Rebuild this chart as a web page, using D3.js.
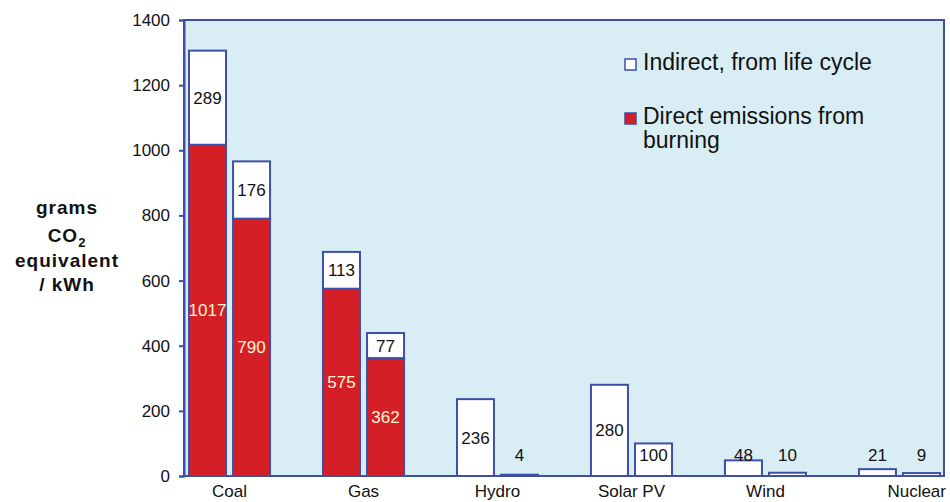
<!DOCTYPE html>
<html lang="en">
<head>
<meta charset="UTF-8">
<title>CO2 per kWh</title>
<script src="https://cdn.jsdelivr.net/npm/d3@7/dist/d3.min.js"></script>
<style>
	body { margin: 0; background: #fff; }
	text { font-family: "Liberation Sans", Arial, sans-serif; }
</style>
</head>
<body>
<svg id="chart" width="950" height="502"></svg>
<script>
// two bars per source: [first, second]
const categories = ["Coal", "Gas", "Hydro", "Solar PV", "Wind", "Nuclear"];
const direct = [[1017, 790], [575, 362], [0, 0], [0, 0], [0, 0], [0, 0]];
const indirect = [[289, 176], [113, 77], [236, 4], [280, 100], [48, 10], [21, 9]];
const yTicks = [0, 200, 400, 600, 800, 1000, 1200, 1400];
const legendLabels = [["Indirect, from life cycle"], ["Direct emissions from", "burning"]];
const yTitle = ["grams", "CO2", "equivalent", "/ kWh"];

const blue = "#3d4fa8", red = "#d41f26", bg = "#d9eef4";

const svg = d3.select("#chart");
const W = 950, H = 502;
const m = { top: 20, right: 6, bottom: 26, left: 184 };
const x0 = m.left, x1 = W - m.right, y0 = H - m.bottom, y1 = m.top;

// rows for the stack
let rows = [];
categories.forEach((c, i) => {
	[0, 1].forEach(j => rows.push({ cat: c, sub: j, direct: direct[i][j], indirect: indirect[i][j] }));
});
const series = d3.stack().keys(["direct", "indirect"])(rows);

const y = d3.scaleLinear().domain([0, 1400]).range([y0, y1]);
const x = d3.scaleBand().domain(categories)
	.range([189, 940]).paddingInner(0.395).paddingOuter(0).align(0);
const xs = d3.scaleBand().domain([0, 1]).range([0, x.bandwidth()]).paddingInner(0.16);

// plot background
svg.append("rect")
	.attr("x", x0).attr("y", y1)
	.attr("width", x1 - x0).attr("height", y0 - y1)
	.attr("fill", bg).attr("stroke", blue).attr("stroke-width", 2);

// y axis
const yAxis = svg.append("g")
	.attr("transform", `translate(${x0},0)`)
	.call(d3.axisLeft(y).tickValues(yTicks).tickFormat(d3.format("d")).tickSize(5).tickPadding(9));
yAxis.select(".domain").attr("stroke", blue).attr("stroke-width", 2);
yAxis.selectAll(".tick line").attr("stroke", blue).attr("stroke-width", 2);
yAxis.selectAll(".tick text").attr("fill", "#111").style("font-size", "17px")
	.style("font-family", "'Liberation Sans', Arial, sans-serif");

// bars
const colors = { direct: red, indirect: "#fff" };
series.forEach(s => {
	svg.append("g").selectAll("rect")
		.data(s)
		.join("rect")
		.filter(d => d[1] - d[0] > 0)
		.attr("x", d => x(d.data.cat) + xs(d.data.sub))
		.attr("y", d => y(d[1]))
		.attr("width", xs.bandwidth())
		.attr("height", d => y(d[0]) - y(d[1]))
		.attr("fill", colors[s.key])
		.attr("stroke", blue).attr("stroke-width", 2);
});

// value labels
series.forEach(s => {
	svg.append("g").selectAll("text")
		.data(s.filter(d => d[1] - d[0] > 0))
		.join("text")
		.attr("x", d => x(d.data.cat) + xs(d.data.sub) + xs.bandwidth() / 2)
		.attr("y", d => Math.min((y(d[0]) + y(d[1])) / 2, y0 - 21) + 6)
		.attr("text-anchor", "middle")
		.attr("fill", s.key == "direct" ? "#fff6d5" : "#111")
		.style("font-size", "17px")
		.text(d => d[1] - d[0]);
});

// category labels
svg.append("g").selectAll("text")
	.data(categories)
	.join("text")
	.attr("x", (d, i) => i == categories.length - 1 ? W - 4 : x(d) + x.bandwidth() / 2)
	.attr("y", y0 + 21)
	.attr("text-anchor", (d, i) => i == categories.length - 1 ? "end" : "middle")
	.attr("fill", "#111")
	.style("font-size", "17px")
	.text(d => d);

// y title
const yt = svg.append("g").attr("transform", "translate(67,0)");
[214, 242, 267, 291].forEach((by, i) => {
	const t = yt.append("text")
		.attr("y", by).attr("text-anchor", "middle")
		.attr("fill", "#111")
		.style("font-size", "19px").style("font-weight", "bold")
		.style("letter-spacing", "1px");
	if (yTitle[i] == "CO2") {
		t.append("tspan").text("CO");
		t.append("tspan").attr("dy", 5).style("font-size", "13px").text("2");
	} else {
		t.text(yTitle[i]);
	}
});

// legend
const lg = svg.append("g").attr("transform", "translate(625,59)");
legendLabels.forEach((lines, i) => {
	const g = lg.append("g").attr("transform", `translate(0,${i * 54})`);
	g.append("rect").attr("width", 11).attr("height", 11)
		.attr("fill", i == 0 ? "#fff" : red)
		.attr("stroke", blue).attr("stroke-width", 1.5);
	lines.forEach((l, k) => {
		g.append("text")
			.attr("x", 18).attr("y", 11 + k * 24)
			.attr("fill", "#111")
			.style("font-size", "23px")
			.text(l);
	});
});
</script>
</body>
</html>
